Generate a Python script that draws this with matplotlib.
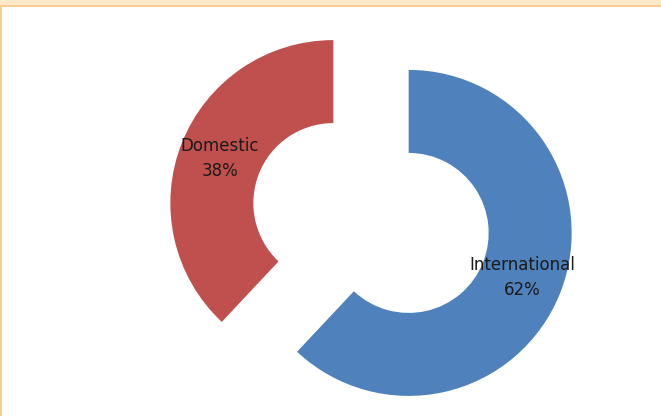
import matplotlib.pyplot as plt
from matplotlib.patches import Rectangle

categories = ['International', 'Domestic']
shares = [62, 38]
colors = ['#4F81BD', '#C0504D']

fig = plt.figure(figsize=(6.61, 4.16), dpi=100)
fig.patch.set_facecolor('white')

# frame bits (peach top band, orange edge lines) like the clipped Excel chart area
fig.patches.append(Rectangle((0, 1 - 5/416), 1, 5/416, transform=fig.transFigure,
                             facecolor='#FDE9CA', edgecolor='none', zorder=0))
fig.patches.append(Rectangle((0, 1 - 7/416), 1, 2/416, transform=fig.transFigure,
                             facecolor='#F9CD8E', edgecolor='none', zorder=0))
fig.patches.append(Rectangle((0, 0), 2/661, 1 - 5/416, transform=fig.transFigure,
                             facecolor='#F9CD8E', edgecolor='none', zorder=0))

ax = fig.add_axes([0, 0, 1, 1])
ax.set_xlim(0, 661)
ax.set_ylim(0, 416)
ax.axis('off')

# explode is in data units here (pixels), since the axes are in pixel space
labels = [f'{c}\n{v}%' for c, v in zip(categories, shares)]
wedges, texts = ax.pie(shares, labels=labels, colors=colors, startangle=90,
                       counterclock=False, center=(371, 198), radius=163,
                       explode=[40.5, 40.5], labeldistance=0.75,
                       wedgeprops=dict(width=83, linewidth=0),
                       textprops=dict(fontsize=12, family='DejaVu Sans', color='#1a1a1a',
                                      linespacing=1.5))
for t in texts:
    t.set_ha('center')
    t.set_va('center')
ax.set_aspect('equal')
ax.set_xlim(0, 661)
ax.set_ylim(0, 416)

fig.savefig('out.png', dpi=100)
